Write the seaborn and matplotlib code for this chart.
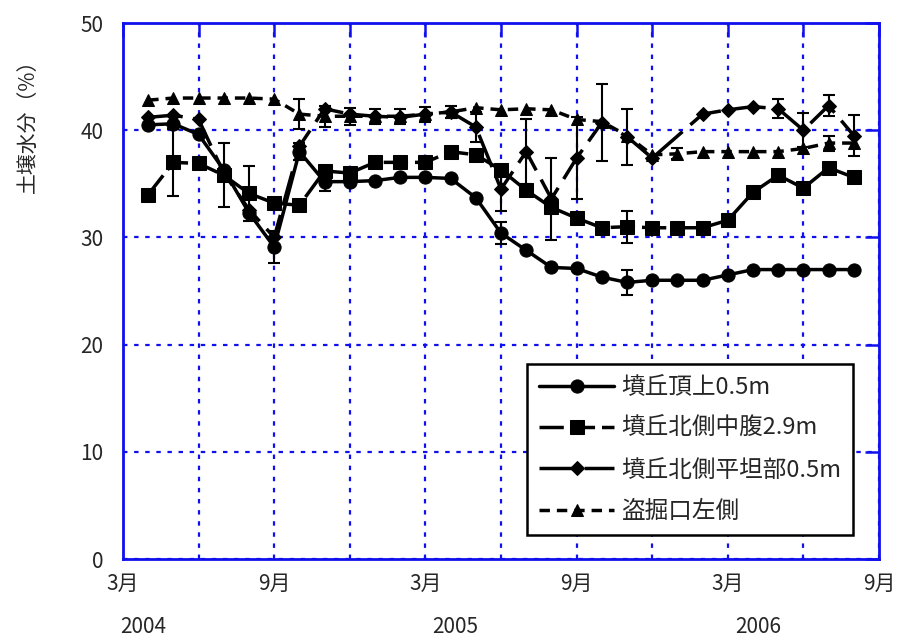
import numpy as np
import pandas as pd
import seaborn as sns
import matplotlib.pyplot as plt

# months counted from March 2004 (0) to September 2006 (30)
months = list(range(1, 30))

tenchou = [40.5, 40.6, 39.6, 36.3, 32.3, 29.1, 38.0, 35.2, 35.2, 35.3, 35.6, 35.6, 35.5,
           33.7, 30.4, 28.8, 27.2, 27.1, 26.3, 25.8, 26.0, 26.0, 26.0, 26.5, 27.0, 27.0,
           27.0, 27.0, 27.0]
chufuku = [34.0, 37.0, 36.9, 35.8, 34.1, 33.2, 33.0, 36.2, 36.0, 37.0, 37.0, 37.0, 38.0,
           37.7, 36.3, 34.4, 32.8, 31.8, 30.9, 31.0, 30.9, 30.9, 30.9, 31.6, 34.2, 35.8,
           34.6, 36.5, 35.6]
heitan = [41.2, 41.4, 41.0, 36.0, 32.6, 30.0, 38.5, 42.0, 41.5, 41.3, 41.2, 41.5, 41.7,
          40.3, 34.5, 38.0, 33.6, 37.4, 40.7, 39.4, 37.4, np.nan, 41.5, 41.9, 42.2, 42.0,
          40.0, 42.3, 39.5]
tokkutsu = [42.8, 43.0, 43.0, 43.0, 43.0, 42.9, 41.5, 41.3, 41.3, 41.3, 41.3, 41.5, 41.7,
            42.1, 41.9, 42.0, 41.9, 41.0, 40.8, 39.5, 37.7, 37.8, 38.0, 38.0, 38.0, 38.0,
            38.3, 38.8, 38.8]

# standard deviations (0 = no bar)
err_tenchou = [0, 0, 0, 0, 0, 1.5, 0.8, 0.9, 0, 0, 0, 0, 0, 0, 1.0, 0, 0, 0, 0, 1.2,
               0, 0, 0, 0, 0, 0, 0, 0, 0]
err_chufuku = [0, 3.1, 0, 3.0, 2.6, 0, 0, 0, 0, 0, 0, 0, 0, 0, 0, 0, 0, 0, 0, 1.5,
               0, 0, 0, 0, 0.4, 0, 0, 0, 0]
err_heitan = [0, 0, 0, 0, 0, 0, 0, 0, 0, 0, 0, 0, 0, 1.4, 2.0, 3.0, 3.8, 3.8, 3.6, 2.6,
              0, 0, 0, 0, 0, 0.9, 1.6, 1.0, 1.9]
err_tokkutsu = [0, 0, 0, 0, 0, 0, 1.4, 1.0, 0.8, 0.7, 0.7, 0.7, 0.6, 0, 0, 0, 0, 0, 0, 0,
                0, 0.5, 0, 0, 0, 0, 0, 0.7, 0]

labels = ['墳丘頂上0.5m', '墳丘北側中腹2.9m', '墳丘北側平坦部0.5m', '盗掘口左側']
markers = ['o', 's', 'D', '^']
dash_list = [None, (7, 2), (10, 3), (3, 2)]
msizes = [9.5, 9.5, 7.5, 8.5]

tick_pos = [0, 3, 6, 9, 12, 15, 18, 21, 24, 27, 30]
tick_lab = ['3月', '', '9月', '', '3月', '', '9月', '', '3月', '', '9月']
years = ['2004', '2005', '2006']
year_pos = [0.8, 13.2, 25.2]

sns.set_style('white')
plt.rcParams['font.family'] = ['Noto Sans CJK JP', 'DejaVu Sans']

blue = '#1010ee'
fig = plt.figure(figsize=(8.98, 6.44), dpi=100)
ax = fig.add_axes([123 / 898, 1 - 559 / 644, 756 / 898, 536 / 644])

series = [tenchou, chufuku, heitan, tokkutsu]
errs = [err_tenchou, err_chufuku, err_heitan, err_tokkutsu]
for vals, err, lab, mk, ds, ms in zip(series, errs, labels, markers, dash_list, msizes):
    df = pd.DataFrame({'month': months, 'val': vals, 'err': err})
    kw = dict(color='black', lw=2.5, marker=mk, markersize=ms,
              markeredgecolor='black', label=lab, zorder=3)
    if ds is not None:
        kw['dashes'] = ds
    sns.lineplot(data=df, x='month', y='val', ax=ax, **kw)
    e = df[(df['err'] > 0) & df['val'].notna()]
    ax.errorbar(e['month'], e['val'], yerr=e['err'], fmt='none', ecolor='black',
                elinewidth=1.5, capsize=4.5, capthick=1.5, zorder=2)

ax.set_xlim(0, 30)
ax.set_ylim(0, 50)
ax.set_xticks(tick_pos)
ax.set_xticklabels(tick_lab)
ax.set_yticks([0, 10, 20, 30, 40, 50])
ax.set_xlabel('')
ax.set_ylabel('')
ax.grid(True, color=blue, linestyle=(0, (2, 3)), lw=1.6)
for s in ax.spines.values():
    s.set_color(blue)
    s.set_linewidth(2)
ax.tick_params(direction='in', length=10, width=1.8, color=blue, top=True, right=True,
               labelsize=15, pad=10)
ax.tick_params(axis='y', pad=14)

for y, p in zip(years, year_pos):
    ax.text(p, -0.127, y, transform=ax.get_xaxis_transform(), ha='center', va='center',
            fontsize=15)

fig.text(28 / 898, 1 - 121 / 644, '土壌水分（%）', rotation=90, ha='center', va='center',
         fontsize=15)

leg = ax.legend(loc='upper left', bbox_to_anchor=(527 / 898, 1 - 364 / 644),
                bbox_transform=fig.transFigure, fontsize=17, frameon=True, fancybox=False,
                edgecolor='black', handlelength=3.2, labelspacing=0.78, borderpad=0.5,
                handletextpad=0.3, borderaxespad=0)
leg.get_frame().set_linewidth(1.8)
leg.get_frame().set_alpha(1)

plt.savefig('out.png', dpi=100)
